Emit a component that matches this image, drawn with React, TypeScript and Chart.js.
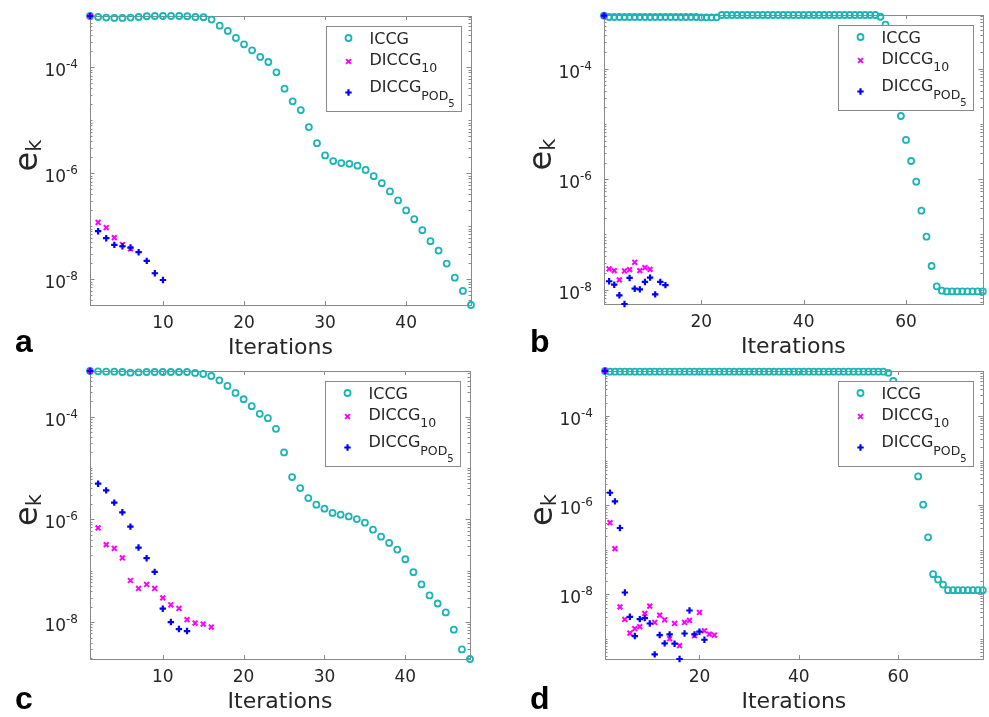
import React, { useEffect, useRef } from 'react';
import { Chart, registerables } from 'chart.js';

Chart.register(...registerables);

// ---------- data ----------
const iccgA = [
  9.3e-4, 8.9e-4, 8.7e-4, 8.55e-4, 8.55e-4, 8.7e-4, 8.9e-4, 9.2e-4, 9.3e-4, 9.3e-4,
  9.3e-4, 9.3e-4, 9.2e-4, 8.9e-4, 8.8e-4, 7.96e-4, 6.1e-4, 4.86e-4, 3.58e-4, 2.72e-4,
  2.09e-4, 1.57e-4, 1.26e-4, 8.05e-5, 3.96e-5, 2.28e-5, 1.56e-5, 7.45e-6, 3.71e-6, 2.17e-6,
  1.7e-6, 1.56e-6, 1.51e-6, 1.39e-6, 1.16e-6, 8.84e-7, 6.52e-7, 4.54e-7, 3.07e-7, 1.99e-7,
  1.36e-7, 8.44e-8, 5.23e-8, 3.48e-8, 1.98e-8, 1.07e-8, 6.02e-9, 3.27e-9,
];
const diccg10A = [9.3e-4, 1.18e-7, 9.46e-8, 6.12e-8, 4.52e-8, 3.74e-8];
const podA = [9.3e-4, 8.07e-8, 5.96e-8, 4.46e-8, 4.2e-8, 3.97e-8, 3.24e-8, 2.22e-8, 1.3e-8, 9.7e-9];

const iccgB = [
  9.1e-4, 8.6e-4, 8.6e-4, 8.6e-4, 8.6e-4, 8.6e-4, 8.6e-4, 8.6e-4, 8.6e-4, 8.6e-4,
  8.6e-4, 8.6e-4, 8.6e-4, 8.6e-4, 8.6e-4, 8.6e-4, 8.6e-4, 8.6e-4, 8.6e-4, 8.5e-4,
  8.5e-4, 8.5e-4, 8.5e-4, 9.35e-4, 9.35e-4, 9.35e-4, 9.35e-4, 9.35e-4, 9.35e-4, 9.35e-4,
  9.35e-4, 9.35e-4, 9.35e-4, 9.35e-4, 9.35e-4, 9.35e-4, 9.35e-4, 9.35e-4, 9.35e-4, 9.35e-4,
  9.35e-4, 9.35e-4, 9.35e-4, 9.35e-4, 9.35e-4, 9.35e-4, 9.35e-4, 9.35e-4, 9.35e-4, 9.35e-4,
  9.35e-4, 9.35e-4, 9.35e-4, 9.35e-4, 8.7e-4, 6.25e-4, 2.2e-4, 5.5e-5, 1.39e-5, 5.12e-6,
  2.13e-6, 9.0e-7, 2.69e-7, 9.1e-8, 2.68e-8, 1.15e-8, 9.6e-9, 9.3e-9, 9.3e-9, 9.3e-9,
  9.3e-9, 9.3e-9, 9.3e-9, 9.3e-9, 9.3e-9,
];
const diccg10B = [9.1e-4, 2.37e-8, 2.21e-8, 1.5e-8, 2.18e-8, 2.3e-8, 3.13e-8, 2.21e-8, 2.5e-8, 2.33e-8];
const podB = [9.1e-4, 1.42e-8, 1.23e-8, 7.9e-9, 5.5e-9, 1.63e-8, 1.04e-8, 1.01e-8, 1.38e-8, 1.65e-8, 8.2e-9, 1.38e-8, 1.21e-8];

const iccgC = [
  7.7e-4, 7.6e-4, 7.48e-4, 7.48e-4, 7.37e-4, 7.15e-4, 7.26e-4, 7.37e-4, 7.37e-4, 7.37e-4,
  7.37e-4, 7.37e-4, 7.37e-4, 7.05e-4, 6.74e-4, 6.16e-4, 5.08e-4, 3.94e-4, 2.88e-4, 2.17e-4,
  1.59e-4, 1.13e-4, 9.29e-5, 5.77e-5, 2.0e-5, 6.64e-6, 4.06e-6, 2.59e-6, 1.93e-6, 1.61e-6,
  1.33e-6, 1.23e-6, 1.14e-6, 1.01e-6, 8.61e-7, 6.29e-7, 4.6e-7, 3.47e-7, 2.58e-7, 1.67e-7,
  9.35e-8, 5.39e-8, 3.3e-8, 2.3e-8, 1.54e-8, 7.1e-9, 2.94e-9, 1.91e-9,
];
const diccg10C = [
  7.7e-4, 6.79e-7, 3.22e-7, 2.73e-7, 1.77e-7, 6.44e-8, 4.51e-8, 5.39e-8, 4.51e-8, 2.96e-8,
  2.17e-8, 1.84e-8, 1.11e-8, 9.57e-9, 9.15e-9, 8.0e-9,
];
const podC = [7.7e-4, 4.93e-6, 3.66e-6, 2.11e-6, 1.37e-6, 7.21e-7, 2.82e-7, 1.75e-7, 9.48e-8, 1.82e-8, 1.0e-8, 7.31e-9, 6.68e-9];

const iccgD = [
  1.02e-3, 9.85e-4, 9.85e-4, 9.85e-4, 9.85e-4, 9.85e-4, 9.85e-4, 9.85e-4, 9.85e-4, 9.85e-4,
  9.85e-4, 9.85e-4, 9.85e-4, 9.85e-4, 9.85e-4, 9.85e-4, 9.85e-4, 9.85e-4, 9.85e-4, 9.85e-4,
  9.85e-4, 9.85e-4, 9.85e-4, 9.85e-4, 9.85e-4, 9.85e-4, 9.85e-4, 9.85e-4, 9.85e-4, 9.85e-4,
  9.85e-4, 9.85e-4, 9.85e-4, 9.85e-4, 9.85e-4, 9.85e-4, 9.85e-4, 9.85e-4, 9.85e-4, 9.85e-4,
  9.85e-4, 9.85e-4, 9.85e-4, 9.85e-4, 9.85e-4, 9.85e-4, 9.85e-4, 9.85e-4, 9.85e-4, 9.85e-4,
  9.85e-4, 9.85e-4, 9.85e-4, 9.85e-4, 9.85e-4, 9.85e-4, 9.85e-4, 9.3e-4, 6.08e-4, 2.8e-4,
  1.1e-4, 4.2e-5, 1.3e-5, 4.39e-6, 1.02e-6, 1.89e-7, 2.81e-8, 2.13e-8, 1.64e-8, 1.23e-8,
  1.23e-8, 1.23e-8, 1.23e-8, 1.23e-8, 1.23e-8, 1.23e-8, 1.23e-8,
];
const diccg10D = [
  1.02e-3, 4.02e-7, 1.05e-7, 5.2e-9, 2.71e-9, 1.34e-9, 1.68e-9, 1.86e-9, 3.69e-9, 5.38e-9,
  2.32e-9, 3.39e-9, 2.66e-9, 1.0e-9, 2.2e-9, 6.97e-10, 2.32e-9, 2.57e-9, 1.17e-9, 3.89e-9,
  1.51e-9, 1.27e-9, 1.21e-9,
];
const podD = [
  1.02e-3, 1.89e-6, 1.21e-6, 3.06e-7, 1.09e-8, 3.11e-9, 1.15e-9, 2.75e-9, 2.9e-9, 2.2e-9,
  4.46e-10, 1.21e-9, 7.86e-10, 1.25e-9, 7.73e-10, 3.51e-10, 1.31e-9, 4.3e-9, 1.25e-9, 1.44e-9,
  9.5e-10,
];

const xTicksShort = [10, 20, 30, 40];
const xTicksLong = [20, 40, 60];
const yTickExponents = [-4, -6, -8];
const legendMain = ['ICCG', 'DICCG', 'DICCG'];
const legendSub = ['', '10', 'POD'];
const legendSubSub = ['', '', '5'];
const panelLetters = ['a', 'b', 'c', 'd'];
const xLabel = 'Iterations';
const yLabelMain = 'e';
const yLabelSub = 'k';

// ---------- styles / layout ----------
const CYAN = '#1cb4b4';
const MAGENTA = '#ff00ff';
const BLUE = '#0000ff';
const AXIS = '#8a8a8a';
const TEXT = '#262626';
const FONT = '"DejaVu Sans", sans-serif';

type PanelCfg = {
  letter: string;
  iccg: number[];
  d10: number[];
  pod: number[];
  xTicks: number[];
  left: number;
  top: number;
  w: number;
  h: number;
  pad: { left: number; right: number; top: number; bottom: number };
  letterX: number;
  letterY: number;
};

const panels: PanelCfg[] = [
  { letter: panelLetters[0], iccg: iccgA, d10: diccg10A, pod: podA, xTicks: xTicksShort,
    left: 0, top: 0, w: 494, h: 358, pad: { left: 90, right: 23, top: 16, bottom: 53 }, letterX: 15, letterY: 352 },
  { letter: panelLetters[1], iccg: iccgB, d10: diccg10B, pod: podB, xTicks: xTicksLong,
    left: 494, top: 0, w: 495, h: 358, pad: { left: 110, right: 4, top: 15, bottom: 54 }, letterX: 36, letterY: 352 },
  { letter: panelLetters[2], iccg: iccgC, d10: diccg10C, pod: podC, xTicks: xTicksShort,
    left: 0, top: 358, w: 494, h: 359, pad: { left: 90, right: 24, top: 13, bottom: 58 }, letterX: 15, letterY: 350.5 },
  { letter: panelLetters[3], iccg: iccgD, d10: diccg10D, pod: podD, xTicks: xTicksLong,
    left: 494, top: 358, w: 495, h: 359, pad: { left: 111, right: 4, top: 13, bottom: 58 }, letterX: 36, letterY: 350.5 },
];

function drawMarker(ctx: CanvasRenderingContext2D, kind: number, x: number, y: number) {
  ctx.save();
  ctx.beginPath();
  if (kind === 0) {
    ctx.strokeStyle = CYAN;
    ctx.lineWidth = 1.8;
    ctx.arc(x, y, 3, 0, Math.PI * 2);
  } else if (kind === 1) {
    ctx.strokeStyle = MAGENTA;
    ctx.lineWidth = 2;
    ctx.moveTo(x - 2.4, y - 2.4); ctx.lineTo(x + 2.4, y + 2.4);
    ctx.moveTo(x + 2.4, y - 2.4); ctx.lineTo(x - 2.4, y + 2.4);
  } else {
    ctx.strokeStyle = BLUE;
    ctx.lineWidth = 2.2;
    ctx.moveTo(x - 3.2, y); ctx.lineTo(x + 3.2, y);
    ctx.moveTo(x, y - 3.2); ctx.lineTo(x, y + 3.2);
  }
  ctx.stroke();
  ctx.restore();
}

function makeDecor(cfg: PanelCfg) {
  return {
    id: 'decor' + cfg.letter,
    beforeDatasetsDraw(chart: any) {
      const ctx: CanvasRenderingContext2D = chart.ctx;
      const { left, right, top, bottom } = chart.chartArea;
      const xs = chart.scales.x;
      const ys = chart.scales.y;
      ctx.save();
      ctx.strokeStyle = AXIS;
      ctx.lineWidth = 1;
      ctx.strokeRect(Math.round(left) + 0.5, Math.round(top) + 0.5, Math.round(right - left), Math.round(bottom - top));
      ctx.beginPath();
      for (const t of cfg.xTicks) {
        const px = Math.round(xs.getPixelForValue(t)) + 0.5;
        ctx.moveTo(px, bottom); ctx.lineTo(px, bottom - 4);
        ctx.moveTo(px, top); ctx.lineTo(px, top + 4);
      }
      const yMin = ys.min, yMax = ys.max;
      for (let e = Math.floor(Math.log10(yMin)); e <= Math.ceil(Math.log10(yMax)); e++) {
        for (let m = 1; m <= 9; m++) {
          const v = m * Math.pow(10, e);
          if (v < yMin || v > yMax) continue;
          const py = Math.round(ys.getPixelForValue(v)) + 0.5;
          const major = m === 1 && yTickExponents.includes(e);
          const len = major ? 4.5 : 2.5;
          ctx.moveTo(left, py); ctx.lineTo(left + len, py);
          ctx.moveTo(right, py); ctx.lineTo(right - len, py);
        }
      }
      ctx.stroke();
      ctx.restore();
    },
    afterDatasetsDraw(chart: any) {
      const ctx: CanvasRenderingContext2D = chart.ctx;
      const { left, right, top, bottom } = chart.chartArea;
      const xs = chart.scales.x;
      const ys = chart.scales.y;
      ctx.save();
      // legend
      const bx = Math.round(right - 145) + 0.5;
      const by = Math.round(top + 9.5) + 0.5;
      ctx.fillStyle = '#ffffff';
      ctx.fillRect(bx, by, 135, 85);
      ctx.strokeStyle = AXIS;
      ctx.lineWidth = 1;
      ctx.strokeRect(bx, by, 135, 85);
      const markerY = [11.5, 35, 66];
      const mainBase = [17.4, 38, 65.4];
      const subBase = [0, 45.4, 73.7];
      const subSubBase = [0, 0, 80.7];
      ctx.fillStyle = TEXT;
      ctx.textAlign = 'left';
      ctx.textBaseline = 'alphabetic';
      for (let i = 0; i < 3; i++) {
        drawMarker(ctx, i, bx + 22, by + markerY[i]);
        ctx.font = '16px ' + FONT;
        ctx.fillText(legendMain[i], bx + 43, by + mainBase[i]);
        let x = bx + 43 + ctx.measureText(legendMain[i]).width;
        if (legendSub[i]) {
          ctx.font = '12.5px ' + FONT;
          ctx.fillText(legendSub[i], x, by + subBase[i]);
          x += ctx.measureText(legendSub[i]).width;
        }
        if (legendSubSub[i]) {
          ctx.font = '10px ' + FONT;
          ctx.fillText(legendSubSub[i], x, by + subSubBase[i]);
        }
      }
      // x tick labels
      ctx.font = '17px ' + FONT;
      ctx.textAlign = 'center';
      for (const t of cfg.xTicks) {
        ctx.fillText(String(t), xs.getPixelForValue(t), bottom + 23);
      }
      // y tick labels
      ctx.textAlign = 'left';
      for (const e of yTickExponents) {
        const py = ys.getPixelForValue(Math.pow(10, e));
        const sup = String(e);
        ctx.font = '12px ' + FONT;
        const sw = ctx.measureText(sup).width;
        ctx.font = '17px ' + FONT;
        const bw = ctx.measureText('10').width;
        const xr = left - 12;
        ctx.fillText('10', xr - sw - bw, py + 9);
        ctx.font = '12px ' + FONT;
        ctx.fillText(sup, xr - sw, py + 1);
      }
      // x label
      ctx.font = '22px ' + FONT;
      ctx.textAlign = 'center';
      ctx.fillText(xLabel, (left + right) / 2, bottom + 49);
      // y label (rotated)
      ctx.save();
      ctx.translate(left - 53, (top + bottom) / 2 - 5);
      ctx.rotate(-Math.PI / 2);
      ctx.textAlign = 'left';
      ctx.font = '32px ' + FONT;
      const ew = ctx.measureText(yLabelMain).width;
      ctx.font = '21px ' + FONT;
      const kw = ctx.measureText(yLabelSub).width;
      const start = -(ew + kw) / 2;
      ctx.font = '32px ' + FONT;
      ctx.fillText(yLabelMain, start, 0);
      ctx.font = '21px ' + FONT;
      ctx.fillText(yLabelSub, start + ew, 4);
      ctx.restore();
      // panel letter
      ctx.font = 'bold 32px "Liberation Sans", Arial, sans-serif';
      ctx.textAlign = 'left';
      ctx.fillStyle = '#000000';
      ctx.fillText(cfg.letter, cfg.letterX, cfg.letterY);
      ctx.restore();
    },
  };
}

function Panel({ cfg }: { cfg: PanelCfg }) {
  const ref = useRef<HTMLCanvasElement | null>(null);
  useEffect(() => {
    if (!ref.current) return;
    const toPts = (arr: number[]) => arr.map((v, i) => ({ x: i + 1, y: v }));
    const all = [...cfg.iccg, ...cfg.d10, ...cfg.pod];
    const chart = new Chart(ref.current, {
      type: 'scatter',
      data: {
        datasets: [
          {
            label: 'ICCG', data: toPts(cfg.iccg), order: 3, clip: false as any,
            pointStyle: 'circle', pointRadius: 3, pointBorderWidth: 1.8,
            borderColor: CYAN, backgroundColor: 'rgba(0,0,0,0)',
          },
          {
            label: 'DICCG10', data: toPts(cfg.d10), order: 2, clip: false as any,
            pointStyle: 'crossRot', pointRadius: 3.4, pointBorderWidth: 2,
            borderColor: MAGENTA, backgroundColor: MAGENTA,
          },
          {
            label: 'DICCGPOD5', data: toPts(cfg.pod), order: 1, clip: false as any,
            pointStyle: 'cross', pointRadius: 3.2, pointBorderWidth: 2.2,
            borderColor: BLUE, backgroundColor: BLUE,
          },
        ],
      },
      options: {
        animation: false,
        responsive: false,
        events: [],
        layout: { padding: cfg.pad },
        plugins: { legend: { display: false }, tooltip: { enabled: false } },
        scales: {
          x: { type: 'linear', min: 1, max: cfg.iccg.length, display: false },
          y: { type: 'logarithmic', min: Math.min(...all), max: Math.max(...all), display: false },
        },
      },
      plugins: [makeDecor(cfg)],
    } as any);
    return () => chart.destroy();
  }, [cfg]);
  return (
    <canvas
      ref={ref}
      width={cfg.w}
      height={cfg.h}
      style={{ position: 'absolute', left: cfg.left, top: cfg.top, width: cfg.w, height: cfg.h }}
    />
  );
}

export default function App() {
  return (
    <div style={{ position: 'absolute', left: 0, top: 0, width: 989, height: 717, background: '#ffffff' }}>
      {panels.map((p) => (
        <Panel key={p.letter} cfg={p} />
      ))}
    </div>
  );
}
